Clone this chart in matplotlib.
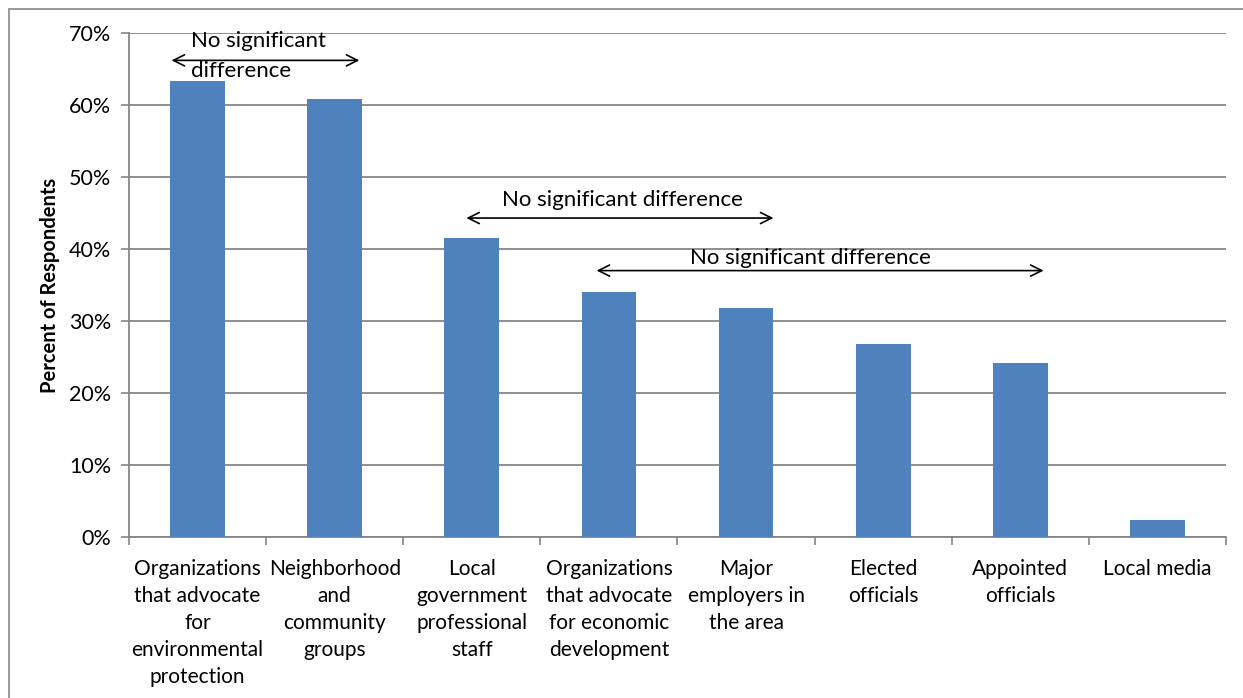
import matplotlib
matplotlib.use("Agg")
import matplotlib.pyplot as plt
from matplotlib.patches import Rectangle
from matplotlib.ticker import PercentFormatter, FixedLocator

plt.rcParams["font.family"] = ["Lato", "DejaVu Sans"]

categories = [
    "Organizations\nthat advocate\nfor\nenvironmental\nprotection",
    "Neighborhood\nand\ncommunity\ngroups",
    "Local\ngovernment\nprofessional\nstaff",
    "Organizations\nthat advocate\nfor economic\ndevelopment",
    "Major\nemployers in\nthe area",
    "Elected\nofficials",
    "Appointed\nofficials",
    "Local media",
]
percent = [63.3, 60.8, 41.5, 34.0, 31.8, 26.8, 24.2, 2.4]

# brackets: (start, end, y) in category / percent units
brackets = [(-0.19, 1.18, 66.2), (1.96, 4.20, 44.3), (2.91, 6.17, 37.0)]
bracket_text = "No significant difference"

grey = "#868686"
fig = plt.figure(figsize=(12.43, 6.98), dpi=100)
fig.patches.append(Rectangle((9 / 1243, -0.1), 1.2, 1.1 - 9 / 698,
                             transform=fig.transFigure, fill=False,
                             edgecolor=grey, linewidth=1.2))
ax = fig.add_axes([0.1038, 0.2307, 0.8825, 0.722])

x = range(len(categories))
ax.bar(x, percent, width=0.4, color="#4F81BD", zorder=3)

ax.set_xlim(-0.5, len(categories) - 0.5)
ax.set_ylim(0, 70)
ax.yaxis.set_major_locator(FixedLocator(range(0, 71, 10)))
ax.yaxis.set_major_formatter(PercentFormatter(decimals=0))
ax.grid(axis="y", color=grey, linewidth=1.3, zorder=0)

ax.set_xticks(list(x))
ax.set_xticklabels(categories, fontsize=15, linespacing=1.43, va="top")
ax.set_xticks([i - 0.5 for i in range(len(categories) + 1)], minor=True)
ax.tick_params(axis="x", which="major", length=0, pad=16)
ax.tick_params(axis="x", which="minor", length=6, color=grey, width=1.2)
ax.tick_params(axis="y", length=6, color=grey, width=1.2, labelsize=15.5, pad=7)
for side in ["top", "right"]:
    ax.spines[side].set_visible(False)
for side in ["left", "bottom"]:
    ax.spines[side].set_color(grey)
    ax.spines[side].set_linewidth(1.3)

ax.set_ylabel("Percent of Respondents", fontsize=14.5, fontweight="bold", labelpad=6)

arrow = dict(arrowstyle="<->,head_length=0.8,head_width=0.4", color="black", lw=1.2,
             shrinkA=0, shrinkB=0)
for x0, x1, y in brackets:
    ax.annotate("", xy=(x1, y), xytext=(x0, y), arrowprops=arrow, zorder=5)

ax.text(-0.05, 68.9, "No significant", fontsize=16, ha="left", va="center", zorder=6)
ax.text(-0.05, 64.7, "difference", fontsize=16, ha="left", va="center", zorder=6)
ax.text(3.10, 46.8, bracket_text, fontsize=16, ha="center", va="center", zorder=6)
ax.text(4.47, 38.7, bracket_text, fontsize=16, ha="center", va="center", zorder=6)

fig.savefig("out.png", dpi=100)
